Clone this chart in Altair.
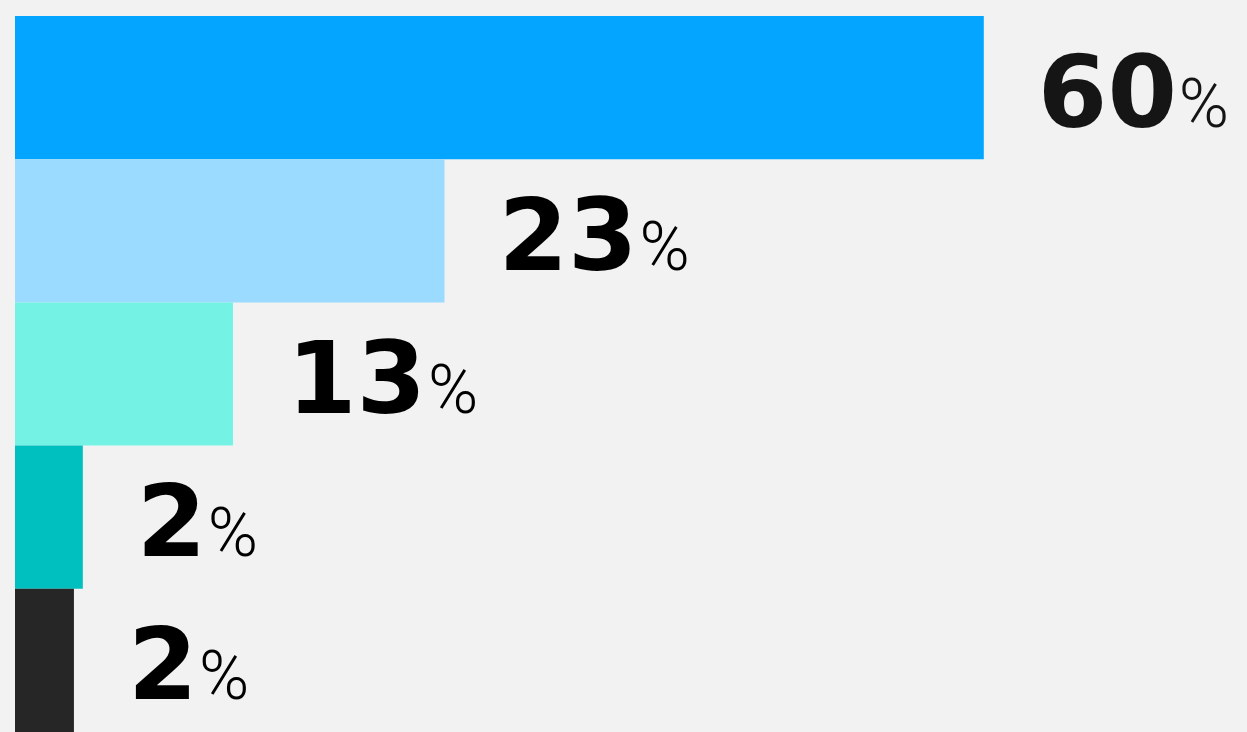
import altair as alt
import pandas as pd

# Data
categories = ["Group A", "Group B", "Group C", "Group D", "Group E"]
shares = [60, 23, 13, 2, 2]                 # printed labels (%)
bar_extent = [60, 26.6, 13.5, 4.2, 3.65]    # drawn bar lengths (same % units)
colors = ["#04A5FF", "#9BDBFF", "#74F3E5", "#00BFBF", "#262626"]
label_colors = ["#151515", "#000000", "#000000", "#000000", "#000000"]

df = pd.DataFrame({
    "category": categories,
    "share": shares,
    "extent": bar_extent,
    "label": [str(s) for s in shares],
    "digits": [len(str(s)) for s in shares],
    "pct": ["%"] * len(shares),
    "tcolor": label_colors,
})

x = alt.X("extent:Q", scale=alt.Scale(domain=[0, 75], nice=False, zero=True), axis=None)
y = alt.Y("category:N", sort=categories,
          scale=alt.Scale(paddingInner=0, paddingOuter=0), axis=None)

base = alt.Chart(df).encode(x=x, y=y)

bars = base.mark_bar(strokeWidth=0).encode(
    color=alt.Color("category:N", scale=alt.Scale(domain=categories, range=colors), legend=None)
)

NUM_DX = 54
DIGIT_W = 70

nums = base.mark_text(
    align="left", baseline="alphabetic", dx=NUM_DX, dy=39,
    font="DejaVu Sans", fontWeight="bold", fontSize=100,
).encode(text="label:N", color=alt.Color("tcolor:N", scale=None))

pct_style = dict(align="left", baseline="alphabetic", dy=39,
                 font="Roboto", fontWeight=300, fontSize=68)

pct2 = base.transform_filter("datum.digits == 2").mark_text(
    dx=NUM_DX + 2 * DIGIT_W + 1, **pct_style
).encode(text="pct:N", color=alt.Color("tcolor:N", scale=None))

pct1 = base.transform_filter("datum.digits == 1").mark_text(
    dx=NUM_DX + DIGIT_W + 1, **pct_style
).encode(text="pct:N", color=alt.Color("tcolor:N", scale=None))

chart = alt.layer(bars, nums, pct2, pct1).resolve_scale(color="independent").properties(
    width=1211, height=716,
    background="#F2F2F2",
    padding={"left": 7, "top": 8, "right": 0, "bottom": 0},
).configure_view(stroke=None)

chart.save("out.html", embed_options={"renderer": "svg", "actions": False,
                                      "defaultStyle": "body{background:#F2F2F2;}"})
